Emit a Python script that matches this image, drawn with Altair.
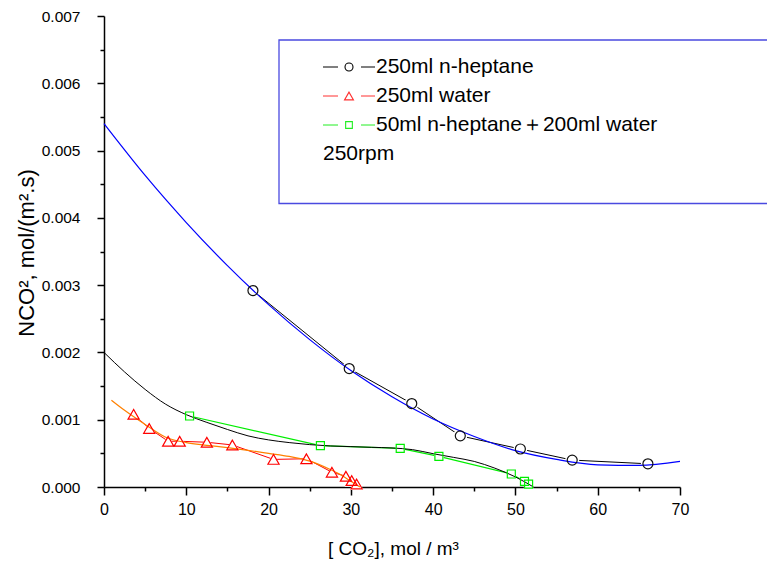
import altair as alt
import pandas as pd

# ---- measured series ----
hep_x = [18.1, 29.8, 37.4, 43.3, 50.6, 56.9, 66.1]
hep_y = [0.00292, 0.00176, 0.00124, 0.00076, 0.000565, 0.000400, 0.000345]

wat_x = [3.6, 5.5, 7.8, 9.2, 12.5, 15.6, 20.6, 24.6, 27.7, 29.4, 30.1, 30.7]
wat_y = [0.00108, 0.00087, 0.00068, 0.00068, 0.000665, 0.000625, 0.00041, 0.00042,
         0.00022, 0.00016, 0.000095, 0.000045]

mix_x = [10.4, 26.3, 36.0, 40.7, 49.5, 51.1, 51.6]
mix_y = [0.001055, 0.000614, 0.000575, 0.000456, 0.000193, 0.000085, 0.000042]

# ---- fitted curves ----
blue_x = [0, 5, 10, 15, 20, 25, 30, 35, 40, 45, 50, 55, 60, 65, 70]
blue_y = [0.00540, 0.00463, 0.00393, 0.00329, 0.00271, 0.00219, 0.00173, 0.00134,
          0.00101, 0.00075, 0.00054, 0.00041, 0.00033, 0.00032, 0.00038]

bfit_x = [0, 2.5, 5, 7.5, 10, 12.5, 15, 17.5, 20, 22.5, 25, 27.5, 30, 32.5, 35,
          37.5, 40, 42.5, 45, 47.5, 50, 52.2]
bfit_y = [0.00200, 0.00171, 0.00145, 0.00123, 0.001075, 0.00096, 0.000855, 0.00076,
          0.00070, 0.00066, 0.00063, 0.00061, 0.00060, 0.00059, 0.00058, 0.000555,
          0.000495, 0.00044, 0.00038, 0.00028, 0.00015, 0.0]

ofit_x = [0.9, 2.5, 5, 7.5, 10, 12.5, 15, 17.5, 20, 22.5, 25, 27.5, 29, 30, 31.1]
ofit_y = [0.00129, 0.00114, 0.00093, 0.00074, 0.00066, 0.00062, 0.000585, 0.000545,
          0.00050, 0.000455, 0.000385, 0.00026, 0.000165, 0.000085, 0.0]

x_ticks = [0, 5, 10, 15, 20, 25, 30, 35, 40, 45, 50, 55, 60, 65, 70]
y_ticks = [0.0, 0.0005, 0.001, 0.0015, 0.002, 0.0025, 0.003, 0.0035, 0.004,
           0.0045, 0.005, 0.0055, 0.006, 0.0065, 0.007]

legend_labels = ["250ml n-heptane", "250ml water", "50ml n-heptane\uff0b200ml water"]
legend_note = "250rpm"

FONT = "Liberation Sans"

def df(xs, ys):
    return pd.DataFrame({"x": xs, "y": ys})

xscale = alt.Scale(domain=[0, 70], nice=False, zero=False)
yscale = alt.Scale(domain=[0, 0.007], nice=False, zero=False)

xaxis = alt.Axis(
    values=x_ticks,
    labelExpr="datum.value % 10 === 0 ? format(datum.value, 'd') : ''",
    tickSize={"condition": {"test": "datum.value % 10 === 0", "value": 8}, "value": 4},
    grid=False, domainColor="black", domainWidth=1.5, tickColor="black", tickWidth=1.5,
    labelFont=FONT, labelFontSize=16, labelColor="black", labelPadding=6,
    labelFlush=False, labelOverlap=False,
    title="[  CO\u2082], mol / m\u00b3", titleFont=FONT, titleFontSize=19,
    titleFontWeight="normal", titleColor="black", titleX=289, titleY=61,
    titleAlign="center", titleBaseline="middle", titleAnchor="start",
)
ymajor = "abs(datum.value*1000 - round(datum.value*1000)) < 1e-6"
yaxis = alt.Axis(
    values=y_ticks,
    labelExpr=ymajor + " ? format(datum.value, '.3f') : ''",
    tickSize={"condition": {"test": ymajor, "value": 7}, "value": 4},
    grid=False, domainColor="black", domainWidth=1.5, tickColor="black", tickWidth=1.5,
    labelFont=FONT, labelFontSize=15.5, labelColor="black", labelPadding=17,
    labelFlush=False, labelOverlap=False,
    title="NCO\u00b2, mol/(m\u00b2.s)", titleFont=FONT, titleFontSize=22,
    titleFontWeight="normal", titleColor="black", titleAngle=270, titleX=-78,
    titleY=236.5, titleAlign="center", titleBaseline="middle", titleAnchor="start",
)

def enc(ch):
    return ch.encode(
        x=alt.X("x:Q", scale=xscale, axis=xaxis),
        y=alt.Y("y:Q", scale=yscale, axis=yaxis),
    )

layers = []
# data lines
layers.append(enc(alt.Chart(df(hep_x, hep_y)).mark_line(color="black", strokeWidth=1)))
layers.append(enc(alt.Chart(df(wat_x, wat_y)).mark_line(color="#ff0000", strokeWidth=1)))
layers.append(enc(alt.Chart(df(mix_x, mix_y)).mark_line(color="#00ee00", strokeWidth=1.2)))
# halos (gaps around symbols)
layers.append(enc(alt.Chart(df(hep_x, hep_y)).mark_point(shape="circle", filled=True, color="white", opacity=1, size=200)))
layers.append(enc(alt.Chart(df(wat_x, wat_y)).mark_point(shape="triangle-up", filled=True, color="white", opacity=1, size=200)))
layers.append(enc(alt.Chart(df(mix_x, mix_y)).mark_point(shape="square", filled=True, color="white", opacity=1, size=90)))
# fitted curves
layers.append(enc(alt.Chart(df(blue_x, blue_y)).mark_line(color="#0000ff", strokeWidth=1.2, interpolate="monotone")))
layers.append(enc(alt.Chart(df(bfit_x, bfit_y)).mark_line(color="black", strokeWidth=1, interpolate="monotone")))
layers.append(enc(alt.Chart(df(ofit_x, ofit_y)).mark_line(color="#ff8000", strokeWidth=1.2, interpolate="monotone")))
# symbols
layers.append(enc(alt.Chart(df(hep_x, hep_y)).mark_point(shape="circle", filled=False, color="#111111", strokeWidth=1.2, opacity=1, size=100)))
layers.append(enc(alt.Chart(df(wat_x, wat_y)).mark_point(shape="triangle-up", filled=False, color="#ff0000", strokeWidth=1.2, opacity=1, size=125)))
layers.append(enc(alt.Chart(df(mix_x, mix_y)).mark_point(shape="square", filled=False, color="#00ee00", strokeWidth=1.2, opacity=1, size=64)))

# ---- legend box ----
one = pd.DataFrame({"k": [0]})
layers.append(alt.Chart(one).mark_rect(fill="white", stroke="#4a4ae0", strokeWidth=1.3).encode(
    x=alt.value(175), x2=alt.value(720), y=alt.value(24), y2=alt.value(187.5)))

leg_colors = ["black", "#ff3030", "#22ee22"]
leg_shapes = ["circle", "triangle-up", "square"]
leg_sizes = [64, 80, 45]
leg_rows = [51, 80, 109]
for lab, col, shp, sz, ry in zip(legend_labels, leg_colors, leg_shapes, leg_sizes, leg_rows):
    layers.append(alt.Chart(one).mark_rule(color=col, strokeWidth=1).encode(
        x=alt.value(219), x2=alt.value(234), y=alt.value(ry)))
    layers.append(alt.Chart(one).mark_rule(color=col, strokeWidth=1).encode(
        x=alt.value(257), x2=alt.value(271), y=alt.value(ry)))
    layers.append(alt.Chart(one).mark_point(shape=shp, filled=False, color=col, strokeWidth=1.1, opacity=1, size=sz).encode(
        x=alt.value(245), y=alt.value(ry)))
    layers.append(alt.Chart(one).mark_text(align="left", baseline="middle", font=FONT, fontSize=21, color="black").encode(
        x=alt.value(272), y=alt.value(ry), text=alt.value(lab)))
layers.append(alt.Chart(one).mark_text(align="left", baseline="middle", font=FONT, fontSize=21, color="black").encode(
    x=alt.value(219), y=alt.value(138), text=alt.value(legend_note)))

chart = alt.layer(*layers).properties(
    width=576, height=471,
    padding={"left": 96, "top": 8, "right": 87, "bottom": 73},
    autosize=alt.AutoSizeParams(type="none"),
    background="white",
).configure_view(stroke=None)

chart.save("out.html", embed_options={"renderer": "svg", "actions": False})
